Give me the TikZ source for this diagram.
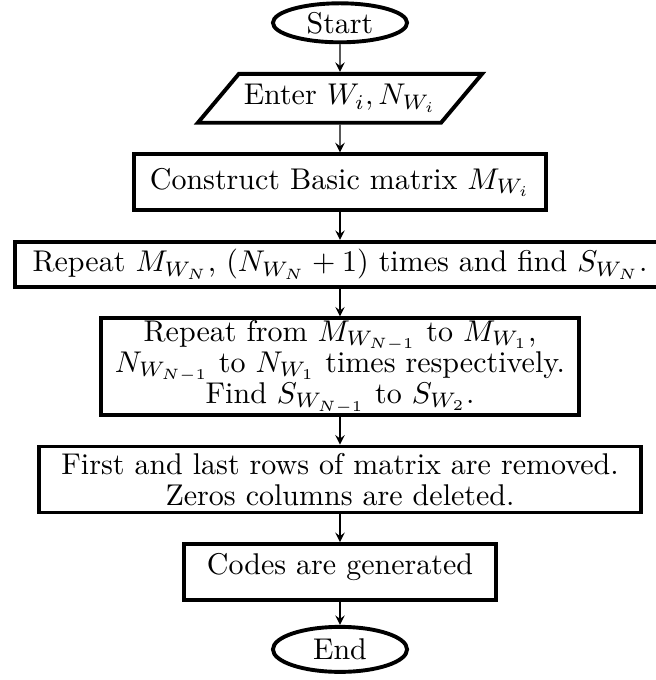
\documentclass[tikz,border=0pt]{standalone}
\usetikzlibrary{positioning,shapes.geometric,arrows}

\begin{document}
\begin{tikzpicture}[
    terminal/.style={ellipse, draw, line width=1.3pt, minimum width=44.7pt, minimum height=13pt, inner sep=0pt},
    io/.style={trapezium, trapezium left angle=50, trapezium right angle=130, draw, line width=1.3pt, minimum height=16.3pt, inner xsep=1pt},
    process/.style={rectangle, draw, line width=1.3pt, align=center, inner ysep=0.5pt,
        font=\fontsize{10pt}{10.4pt}\selectfont},
    flow/.style={->, >=stealth},
    node distance=9.2pt
]

\useasboundingbox (-113.3pt,7.6pt) rectangle (105.3pt,-219pt);

\node [terminal] (Start) {Start};
\node [io, below=of Start] (Enter) {Enter $W_i, N_{W_i}$};
\node [process, below=of Enter, minimum width=137pt, minimum height=18.7pt] (Basic) {Construct Basic matrix $M_{W_i}$};
\node [process, below=of Basic, minimum width=216.7pt, minimum height=15pt] (RepN) {Repeat $M_{W_N}$, $(N_{W_N}+1)$ times and find $S_{W_N}$.};
\node [process, below=of RepN, minimum width=159pt, minimum height=32pt] (RepAll) {Repeat from $M_{W_{N-1}}$ to $M_{W_1}$,\\
    $N_{W_{N-1}}$ to $N_{W_1}$ times respectively.\\
    Find $S_{W_{N-1}}$ to $S_{W_2}$.};
\node [process, below=of RepAll, minimum width=200.7pt, minimum height=22pt] (Trim) {First and last rows of matrix are removed.\\
    Zeros columns are deleted.};
\node [process, below=of Trim, minimum width=104pt, minimum height=18.7pt, text depth=5.5pt] (Codes) {Codes are generated};
\node [terminal, below=7.6pt of Codes, minimum height=15pt] (End) {End};

\draw [flow] (Start) -- (Enter);
\draw [flow] (Enter) -- (Basic);
\draw [flow] (Basic) -- (RepN);
\draw [flow] (RepN) -- (RepAll);
\draw [flow] (RepAll) -- (Trim);
\draw [flow] (Trim) -- (Codes);
\draw [flow] (Codes) -- (End);

\end{tikzpicture}
\end{document}
